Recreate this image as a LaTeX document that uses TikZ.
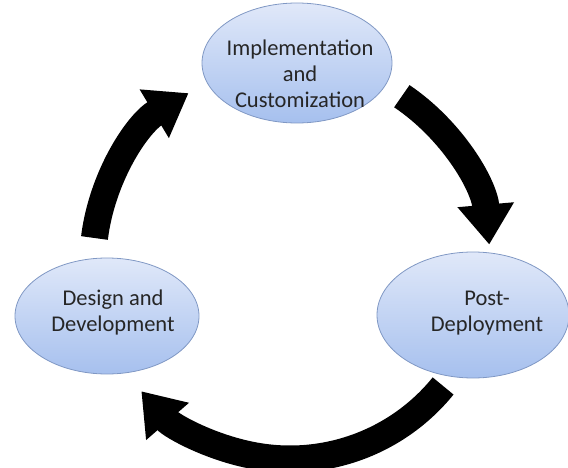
\documentclass[tikz,border=0pt]{standalone}
\usepackage{fontspec}
\setmainfont{Carlito}
\usetikzlibrary{shapes.geometric,arrows.meta}
\definecolor{elltop}{RGB}{224,232,249}
\definecolor{ellbot}{RGB}{166,192,238}
\definecolor{ellline}{RGB}{128,152,196}
\definecolor{txt}{RGB}{38,38,38}
\begin{document}
\begin{tikzpicture}[x=1pt,y=1pt,
  phase/.style={ellipse, draw=ellline, line width=0.8pt,
    top color=elltop, bottom color=ellbot, inner sep=0pt},
  lbl/.style={align=center, font=\fontsize{22.5}{26}\selectfont, text=txt},
  cyc/.style={line width=27pt, -{Triangle[width=54pt,length=40pt]}}]
\useasboundingbox (0,0) rectangle (568,-468);
\coordinate (c) at (290,-262);
\node[phase, minimum width=190pt, minimum height=120pt] (impl) at (297,-63) {};
\node[phase, minimum width=184pt, minimum height=116pt] (des) at (107,-316) {};
\node[phase, minimum width=192pt, minimum height=126pt] (post) at (473,-315) {};
\node[lbl] (timpl) at (300,-74) {Implementation\\and\\Customization};
\node[lbl] (tdes) at (113,-313) {Design and\\Development};
\node[lbl] (tpost) at (487,-313) {Post-\\Deployment};
\draw[cyc] ([shift={(56:200pt)}]c) arc[start angle=56, end angle=5, radius=200pt];
\draw[cyc] ([shift={(-39:197pt)}]c) arc[start angle=-39, end angle=-139, radius=197pt];
\draw[cyc] ([shift={(173:197pt)}]c) arc[start angle=173, end angle=121, radius=197pt];
\end{tikzpicture}
\end{document}
